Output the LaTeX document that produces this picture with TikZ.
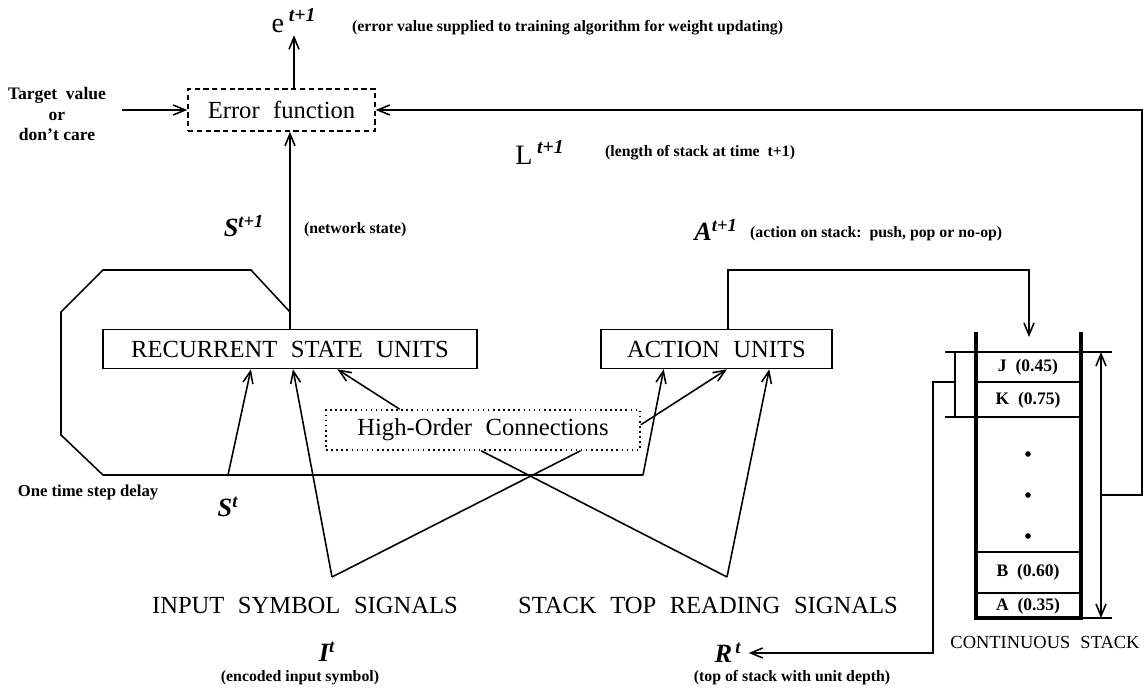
\documentclass[tikz,border=0pt]{standalone}
\usepackage{fontspec}
\setmainfont{Liberation Serif}
\newfontfamily\wideserif[WordSpace=2.2]{Liberation Serif}
\usetikzlibrary{arrows.meta, calc}

\tikzset{
  conn/.style={line width=0.9pt, -{Straight Barb[length=2.4mm,width=2mm]}},
  plain/.style={line width=0.9pt},
  unitbox/.style={draw, line width=0.9pt, inner sep=0pt, font=\wideserif\fontsize{14}{16}\selectfont},
  note/.style={inner sep=1pt, font=\bfseries\fontsize{9}{10.5}\selectfont},
  sig/.style={inner sep=1pt, font=\bfseries\itshape\fontsize{15}{17}\selectfont},
  caps/.style={inner sep=1pt, font=\wideserif\fontsize{14}{16}\selectfont},
  cell/.style={inner sep=1pt, font=\bfseries\fontsize{10}{12}\selectfont}
}

\begin{document}
\begin{tikzpicture}[x=0.02cm, y=-0.02cm]
  \useasboundingbox (0,0) rectangle (1147,692);
  % error function
  \node[unitbox, dash pattern=on 3pt off 2pt, minimum width=3.74cm, minimum height=0.84cm] (err) at (281.5,110) {Error function};
  \node[inner sep=1pt, font=\fontsize{16}{18}\selectfont] (e) at (294,21) {e\,\textsuperscript{\bfseries\itshape t+1}};
  \node[note, anchor=west] (enote) at (350,28) {(error value supplied to training algorithm for weight updating)};
  \node[note, align=center, font=\bfseries\fontsize{10}{11.5}\selectfont] (tgt) at (57,114) {Target\ \ value\\or\\don't care};
  \draw[conn](err.north -| e.south)--(e.south);
  \draw[conn, shorten <=8pt](tgt.east |- err.west)--(err.west);
  \node[inner sep=1pt, font=\fontsize{16}{18}\selectfont] (len) at (540,153) {L\,\textsuperscript{\bfseries\itshape t+1}};
  \node[note, anchor=west] (lnote) at (603,153) {(length of stack at time\ \ t+1)};

  % units
  \node[unitbox, minimum width=7.48cm, minimum height=0.78cm] (rsu) at (290,349) {RECURRENT STATE UNITS};
  \node[unitbox, minimum width=4.62cm, minimum height=0.78cm] (act) at (716.5,349) {ACTION UNITS};
  \node[unitbox, dotted, minimum width=6.28cm, minimum height=0.8cm] (hoc) at (483,430) {High-Order Connections};
  \node[sig] (snext) at (244,226) {S\textsuperscript{t+1}};
  \node[note, anchor=west] (snote) at (302,230) {(network state)};
  \node[sig] (anext) at (716,230) {A\textsuperscript{t+1}};
  \node[note, anchor=west] (anote) at (748,234) {(action on stack:\ \ push, pop or no-op)};
  \draw[conn](rsu.north)--(rsu.north |- err.south);

  % one time step delay
  \coordinate (join) at (290,312); \coordinate (sS) at (228,475); \coordinate (sA) at (643,475);
  \draw[plain](join)--(251,270)--(103,270)--(61,312)--(61,435)--(103,475)--(sA);
  \node[note, font=\bfseries\fontsize{9.5}{11}\selectfont] (delay) at (88,493) {One time step delay};
  \node[sig] (snow) at (228,507) {S\textsuperscript{t}};
  \draw[conn](sS)--($(rsu.south west)!0.396!(rsu.south east)$);
  \draw[conn](sA)--($(act.south west)!0.273!(act.south east)$);
  \draw[conn]($(hoc.north west)!0.236!(hoc.north east)$)--($(rsu.south west)!0.626!(rsu.south east)$);
  \draw[conn]($(hoc.north east)!0.375!(hoc.south east)$)--($(act.south west)!0.545!(act.south east)$);

  % input and stack top signals
  \coordinate (vI) at (332,577); \coordinate (vR) at (727,577);
  \draw[conn](vI)--($(rsu.south west)!0.508!(rsu.south east)$);
  \draw[plain](vI)--($(hoc.south west)!0.809!(hoc.south east)$);
  \draw[plain](vR)--($(hoc.south west)!0.494!(hoc.south east)$);
  \draw[conn](vR)--($(act.south west)!0.727!(act.south east)$);
  \node[caps] (insig) at (305,605) {INPUT SYMBOL SIGNALS};
  \node[caps] (stsig) at (708,605) {STACK TOP READING SIGNALS};
  \node[sig] (inow) at (327,652) {I\textsuperscript{t}};
  \node[note] (inote) at (300,678) {(encoded input symbol)};
  \node[sig] (rnow) at (728,653) {R\textsuperscript{\,t}};
  \node[note] (rnote) at (792,678) {(top of stack with unit depth)};

  % continuous stack
  \draw[line width=2pt](976,332)--(976,618)--(1081,618)--(1081,332);
  \draw[plain](945,352)--(1112,352); \draw[plain](976,382)--(1081,382);
  \draw[plain](945,417)--(1081,417); \draw[plain](976,552)--(1081,552);
  \draw[plain](976,593)--(1081,593); \draw[plain](1081,618)--(1112,618);
  \node[cell] (cJ) at (1028,367) {J\ \ (0.45)};
  \node[cell] (cK) at (1028,400) {K\ \ (0.75)};
  \node[cell] (cB) at (1028,572) {B\ \ (0.60)};
  \node[cell] (cA) at (1028,606) {A\ \ (0.35)};
  \foreach \y in {454,495,536} \fill (1028,\y) circle (1.6pt);
  \node[inner sep=1pt, font=\wideserif\fontsize{10.5}{12}\selectfont] (cst) at (1045,642) {CONTINUOUS STACK};

  % stack connections
  \coordinate (push) at (1029,337); \coordinate (turn) at (1029,270);
  \coordinate (actTop) at ($(act.north west)!0.55!(act.north east)$);
  \draw[conn](actTop)|-(turn)--(push);
  \coordinate (lenTop) at (1101,352); \coordinate (lenBot) at (1101,618);
  \draw[line width=0.9pt, {Straight Barb[length=2.4mm,width=2mm]}-{Straight Barb[length=2.4mm,width=2mm]}](lenTop)--(lenBot);
  \coordinate (lenTap) at (1101,495); \coordinate (lenR) at (1142,495);
  \draw[conn](lenTap)--(lenR)|-(err.east);
  \coordinate (brkT) at (955,352); \coordinate (brkB) at (955,417); \coordinate (brkM) at (955,382);
  \draw[plain](brkT)--(brkB);
  \draw[conn, shorten >=3pt](brkM)--(933,382)|-(rnow.east);
\end{tikzpicture}
\end{document}
